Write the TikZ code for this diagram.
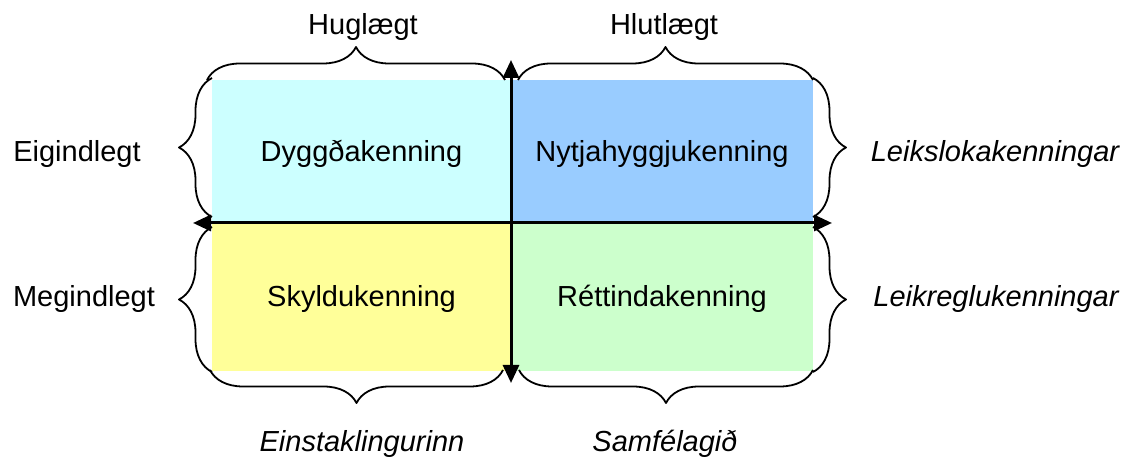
\documentclass[tikz,border=0pt]{standalone}
\usepackage{fontspec}
\setmainfont{Liberation Sans}
\usetikzlibrary{arrows.meta,decorations.pathreplacing}

\definecolor{dyggfill}{HTML}{CCFFFF}
\definecolor{nytjafill}{HTML}{99CCFF}
\definecolor{skyldfill}{HTML}{FFFF99}
\definecolor{rettfill}{HTML}{CCFFCC}

\begin{document}
\begin{tikzpicture}[x=1pt,y=1pt,font=\fontsize{29}{35}\selectfont,
cell/.style n args={3}{fill=#1,minimum width=#2pt,minimum height=#3pt,inner sep=0pt,text height=24pt,text depth=4pt},
axis/.style={line width=3pt,{Triangle[length=18pt,width=16pt]}-{Triangle[length=18pt,width=16pt]}},
brc/.style={decorate,decoration={brace,amplitude=33pt},line width=1.8pt,line join=round},
lbl/.style={anchor=base,inner sep=0pt}]
\useasboundingbox (0,0) rectangle (1128,457);
\node[cell={dyggfill}{299}{143}] (dygg) at (361.5,305.5) {Dyggðakenning};
\node[cell={nytjafill}{302}{143}] (nytja) at (662,305.5) {Nytjahyggjukenning};
\node[cell={skyldfill}{299}{148}] (skyld) at (361.5,160) {Skyldukenning};
\node[cell={rettfill}{302}{148}] (rett) at (662,160) {Réttindakenning};
\coordinate (vtop) at (511,397);
\coordinate (vbot) at (511,74);
\coordinate (hlft) at (193,234);
\coordinate (hrgt) at (832,234);
\draw[axis] (vbot) -- (vtop);
\draw[axis] (hlft) -- (hrgt);
\draw[brc] (207,377) -- (505,377);
\draw[brc] (518,377) -- (813,377);
\draw[brc] (212,240) -- (212,379);
\draw[brc] (212,85) -- (212,230);
\draw[brc] (813,379) -- (813,240);
\draw[brc] (813,230) -- (813,85);
\draw[brc] (503,87) -- (210,87);
\draw[brc] (813,87) -- (519,87);
\foreach \nm/\x/\y/\txt in %
{hug/363/422/Huglægt,hlut/664/422/Hlutlægt,eig/77/295/Eigindlegt,meg/84/150/Megindlegt} {
   \node[lbl] (\nm) at (\x,\y) {\txt};
}
\foreach \nm/\x/\y/\txt in %
{leiks/995/295/Leikslokakenningar,leikr/996/150/Leikreglukenningar,einst/362/5/Einstaklingurinn,samf/665/5/Samfélagið} {
   \node[lbl,font=\fontsize{29}{35}\selectfont\itshape] (\nm) at (\x,\y) {\txt};
}
\end{tikzpicture}
\end{document}
